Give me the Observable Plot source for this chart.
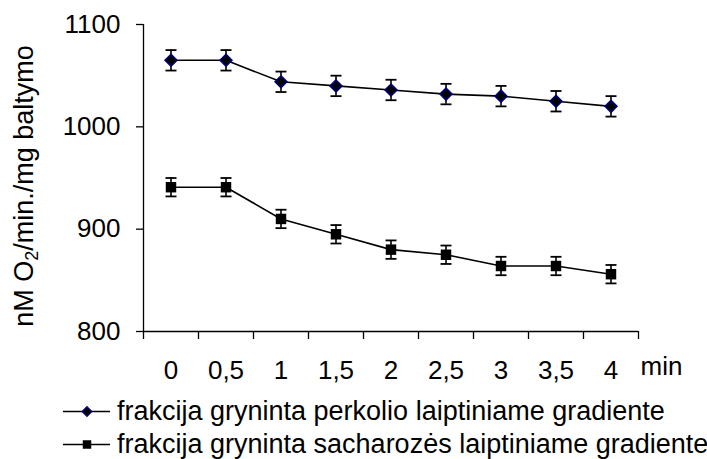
<!DOCTYPE html>
<html>
<head>
<meta charset="utf-8">
<script src="https://cdn.jsdelivr.net/npm/d3@7"></script>
<script src="https://cdn.jsdelivr.net/npm/@observablehq/plot@0.6"></script>
<style>
  html, body { margin: 0; padding: 0; background: #fff; }
  #legend { font-family: "Liberation Sans", Arial, sans-serif; font-size: 27px; color: #000; padding-left: 63px; padding-top: 7px; }
  #legend .row { display: flex; align-items: center; height: 33px; white-space: nowrap; }
  #legend svg { flex: none; margin-right: 7px; }
</style>
</head>
<body>
<div id="chart"></div>
<div id="legend"></div>
<script>
// ---- data ----
const categories = [0, 0.5, 1, 1.5, 2, 2.5, 3, 3.5, 4];
const tickLabels = ["0", "0,5", "1", "1,5", "2", "2,5", "3", "3,5", "4"];
const seriesNames = [
  "frakcija gryninta perkolio laiptiniame gradiente",
  "frakcija gryninta sacharozės laiptiniame gradiente"
];
const perkolio = [1065, 1065, 1044, 1040, 1036, 1032, 1030, 1025, 1020];
const perkolioErr = [10, 10, 10, 10, 10, 10, 10, 10, 10];
const sacharozes = [941, 941, 910, 895, 880, 875, 864, 864, 856];
const sacharozesErr = [9, 9, 9, 9, 9, 9, 9, 9, 9];
const yTicks = [800, 900, 1000, 1100];
const xUnit = "min";

// ---- table ----
const rows = [];
categories.forEach((c, i) => {
  rows.push({x: c, y: perkolio[i], e: perkolioErr[i], s: seriesNames[0]});
  rows.push({x: c, y: sacharozes[i], e: sacharozesErr[i], s: seriesNames[1]});
});
const rowsA = rows.filter(d => d.s === seriesNames[0]);
const rowsB = rows.filter(d => d.s === seriesNames[1]);

const half = (categories[1] - categories[0]) / 2;
const boundaries = [...categories.map(c => c - half), categories[categories.length - 1] + half];

// horizontal cap symbol for error bars
const capSymbol = { draw(context) { context.moveTo(-5.5, 0); context.lineTo(5.5, 0); } };

const font = "'Liberation Sans', Arial, sans-serif";

const chart = Plot.plot({
  width: 707,
  height: 388,
  marginTop: 24,
  marginBottom: 57,
  marginLeft: 143,
  marginRight: 69,
  style: { fontFamily: font, fontSize: "26px", color: "#000", background: "#fff", overflow: "visible" },
  x: { domain: [boundaries[0], boundaries[boundaries.length - 1]] },
  y: { domain: [yTicks[0], yTicks[yTicks.length - 1]] },
  marks: [
    Plot.ruleX([boundaries[0]], { stroke: "#000", strokeWidth: 1.3 }),
    Plot.ruleY([yTicks[0]], { stroke: "#000", strokeWidth: 1.3 }),
    Plot.axisY({ ticks: yTicks, tickSize: 7, tickPadding: 16, fontSize: 26, tickFormat: d => String(d), label: null, strokeWidth: 1.3 }),
    Plot.axisX({ ticks: boundaries, tickSize: 8, tickFormat: () => "", label: null, strokeWidth: 1.3 }),
    Plot.axisX({ ticks: categories, tickSize: 0, tickPadding: 29, fontSize: 26, tickFormat: d => tickLabels[categories.indexOf(d)], label: null }),
    Plot.text([xUnit], { frameAnchor: "bottom-right", textAnchor: "start", lineAnchor: "top", dx: 2, dy: 25, fontSize: 26, text: d => d }),
    // error bars
    Plot.ruleX(rows, { x: "x", y1: d => d.y - d.e, y2: d => d.y + d.e, stroke: "#000", strokeWidth: 1.6 }),
    Plot.dot(rows, { x: "x", y: d => d.y - d.e, symbol: capSymbol, stroke: "#000", strokeWidth: 1.8 }),
    Plot.dot(rows, { x: "x", y: d => d.y + d.e, symbol: capSymbol, stroke: "#000", strokeWidth: 1.8 }),
    // lines
    Plot.line(rows, { x: "x", y: "y", z: "s", stroke: "#000", strokeWidth: 1.6 }),
    // markers
    Plot.dot(rowsA, { x: "x", y: "y", symbol: "diamond2", r: 5.4, fill: "#000", stroke: "#000080", strokeWidth: 1.5 }),
    Plot.dot(rowsB, { x: "x", y: "y", symbol: "square", r: 5.9, fill: "#000", stroke: "none" })
  ]
});

// y-axis title with subscript
const svg = d3.select(chart);
const title = svg.append("text")
  .attr("transform", "translate(33,186) rotate(-90)")
  .attr("text-anchor", "middle")
  .attr("font-family", font)
  .attr("font-size", 27)
  .attr("fill", "#000");
title.append("tspan").text("nM O");
title.append("tspan").attr("font-size", 18).attr("dy", 5).text("2");
title.append("tspan").attr("dy", -5).text("/min./mg baltymo");

document.getElementById("chart").appendChild(chart);

// legend
const legend = d3.select("#legend");
const legendSymbols = [
  { type: d3.symbolDiamond2, size: 60, fill: "#000", stroke: "#000080" },
  { type: d3.symbolSquare, size: 72, fill: "#000", stroke: "none" }
];
seriesNames.forEach((name, i) => {
  const row = legend.append("div").attr("class", "row");
  const s = row.append("svg").attr("width", 47).attr("height", 33);
  s.append("line").attr("x1", 0).attr("x2", 47).attr("y1", 16.5).attr("y2", 16.5).attr("stroke", "#000").attr("stroke-width", 1.6);
  s.append("path").attr("transform", "translate(24,16.5)")
    .attr("d", d3.symbol(legendSymbols[i].type, legendSymbols[i].size)())
    .attr("fill", legendSymbols[i].fill).attr("stroke", legendSymbols[i].stroke).attr("stroke-width", 1.2);
  row.append("span").text(name);
});
</script>
</body>
</html>
